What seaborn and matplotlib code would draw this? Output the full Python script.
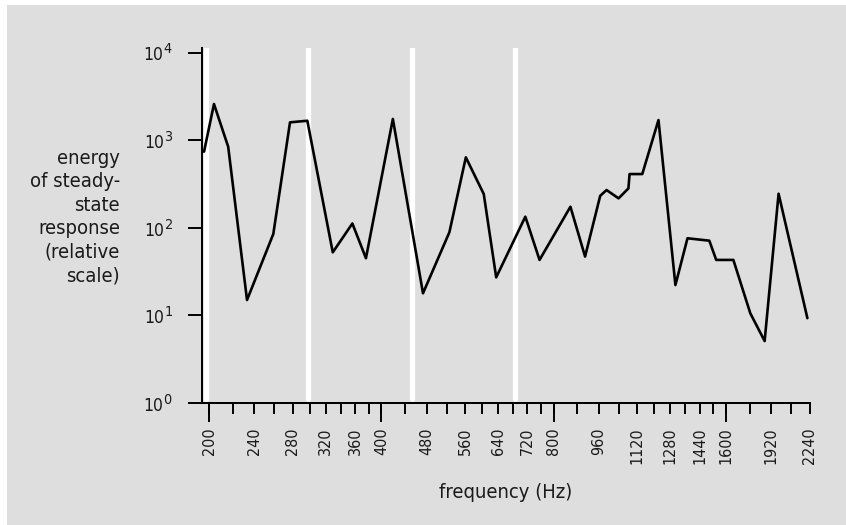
import matplotlib
matplotlib.use("Agg")
import matplotlib.pyplot as plt
from matplotlib.patches import Rectangle
from matplotlib.ticker import FixedLocator, NullLocator, FixedFormatter, LogFormatterSciNotation
import seaborn as sns
import pandas as pd

try:
    import matplotlib._mathtext as _mt
    _mt.SHRINK_FACTOR = 0.82
except Exception:
    pass

# ---- data ----
freq = [196, 204, 216, 233, 259, 277, 297, 329, 356, 376, 419, 473, 526, 562, 604,
        635, 714, 756, 856, 908, 965, 990, 1039, 1081, 1086, 1143, 1220, 1306, 1371,
        1497, 1539, 1649, 1765, 1870, 1978, 2221]
energy = [740, 2590, 843, 15, 85, 1600, 1670, 52.5, 112, 45, 1750, 17.9, 89, 638, 243,
          27.2, 134, 43, 174, 47, 232, 270, 217, 282, 411, 411, 1700, 22.2, 76,
          71.3, 43, 43, 10.6, 5.1, 245, 9.3]
white_lines = [197.2, 297.9, 452, 684]
labeled_ticks = [200, 240, 280, 320, 360, 400, 480, 560, 640, 720, 800, 960, 1120,
                 1280, 1440, 1600, 1920, 2240]
minor_ticks = [220, 260, 300, 340, 380, 440, 520, 600, 680, 760, 880, 1040, 1200,
               1360, 1520, 1760, 2080]
long_ticks = [200, 400, 800, 1600]
y_ticks = [1, 10, 100, 1000, 10000]

df = pd.DataFrame({"frequency": freq, "energy": energy})

sns.set_style("ticks")
plt.rcParams["font.family"] = ["DejaVu Sans"]
plt.rcParams["font.stretch"] = "condensed"
plt.rcParams["mathtext.fontset"] = "custom"
plt.rcParams["mathtext.rm"] = "DejaVu Sans:stretch=condensed"
plt.rcParams["mathtext.it"] = "DejaVu Sans:italic:stretch=condensed"
plt.rcParams["mathtext.bf"] = "DejaVu Sans:bold:stretch=condensed"

BG = "#dedede"
fig = plt.figure(figsize=(8.46, 5.25), dpi=100)
fig.patch.set_facecolor("white")
fig.patches.append(Rectangle((7 / 846, 0), 1, 1 - 5 / 525, transform=fig.transFigure,
                             facecolor=BG, edgecolor="none", zorder=-10))
ax = fig.add_axes([202 / 846, 1 - 403 / 525, 607.5 / 846, 355 / 525])
ax.set_facecolor("none")

for f in white_lines:
    ax.axvline(f, color="white", lw=3.8, ymin=0.012, ymax=1, zorder=1)

sns.lineplot(data=df, x="frequency", y="energy", color="black", lw=1.9, ax=ax,
             zorder=3, sort=False)

ax.set_xscale("log")
ax.set_yscale("log")
ax.set_xlim(194.4, 2240)
ax.set_ylim(1, 11300)

for s in ["top", "right"]:
    ax.spines[s].set_visible(False)
for s in ["left", "bottom"]:
    ax.spines[s].set_linewidth(1.45)
    ax.spines[s].set_color("black")

# x ticks
ax.xaxis.set_major_locator(FixedLocator(labeled_ticks))
ax.xaxis.set_major_formatter(FixedFormatter([str(t) for t in labeled_ticks]))
ax.xaxis.set_minor_locator(FixedLocator(minor_ticks))
ax.xaxis.set_minor_formatter(FixedFormatter([""] * len(minor_ticks)))
ax.tick_params(axis="x", which="both", direction="out", length=7.8, width=1.4,
               color="black")
ax.tick_params(axis="x", which="major", pad=9.5, labelsize=11.5, labelrotation=90,
               labelcolor="#1a1a1a")

sec = ax.secondary_xaxis("bottom")
sec.spines["bottom"].set_visible(False)
sec.xaxis.set_major_locator(FixedLocator(long_ticks))
sec.xaxis.set_minor_locator(NullLocator())
sec.xaxis.set_major_formatter(FixedFormatter([""] * len(long_ticks)))
sec.tick_params(axis="x", which="major", direction="out", length=13.6, width=1.4,
                color="black")

# y ticks
ax.yaxis.set_major_locator(FixedLocator(y_ticks))
ax.yaxis.set_major_formatter(LogFormatterSciNotation())
ax.yaxis.set_minor_locator(NullLocator())
ax.tick_params(axis="y", which="major", direction="out", length=10, width=1.4,
               pad=11, labelsize=12.5, color="black", labelcolor="#1a1a1a")

ax.set_xlabel("frequency (Hz)", fontsize=14.5, color="#1a1a1a", va="center")
ax.xaxis.set_label_coords(0.5, (403 - 493) / 355)
ax.set_ylabel("energy\nof steady-\nstate\nresponse\n(relative\nscale)", fontsize=14.5,
              rotation=0, ha="right", va="center", multialignment="right",
              color="#1a1a1a", linespacing=1.3)
ax.yaxis.set_label_coords((120 - 202) / 607.5, (403 - 217) / 355)

fig.savefig("out.png", dpi=100)
